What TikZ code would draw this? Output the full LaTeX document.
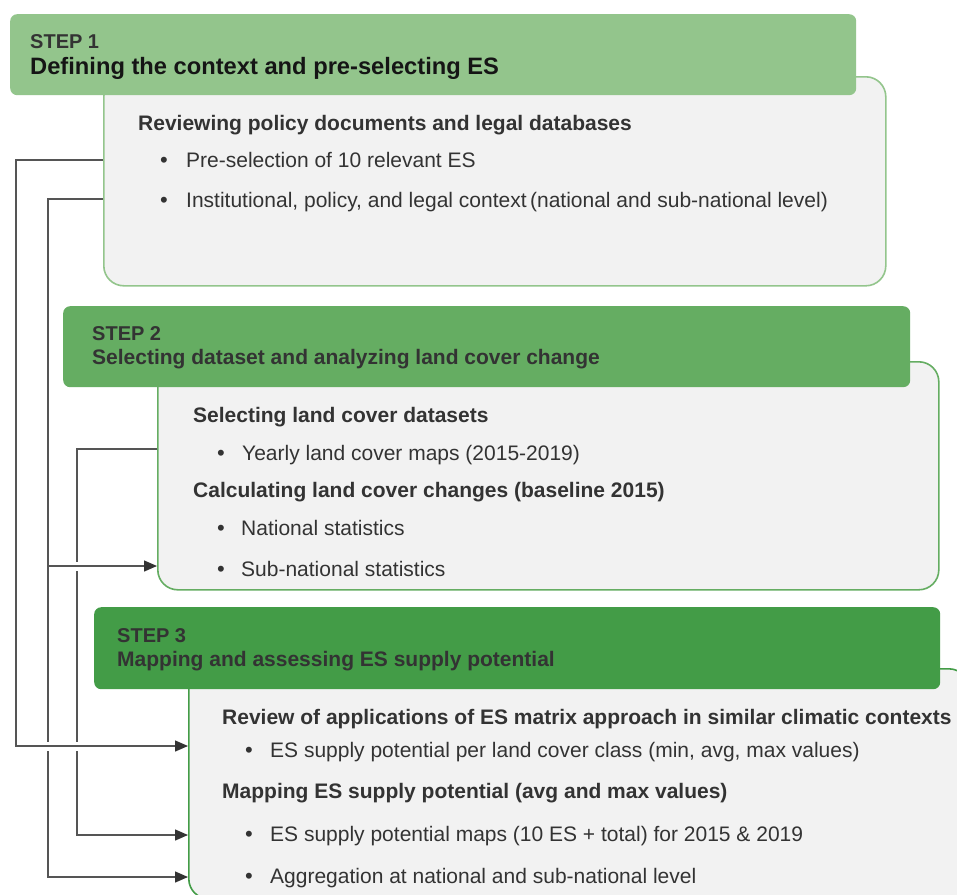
\documentclass[tikz,border=0pt]{standalone}
\usepackage{fontspec}
\setmainfont{Liberation Sans}
\usetikzlibrary{arrows.meta}
\definecolor{hA}{HTML}{93C58C}
\definecolor{hB}{HTML}{65AD62}
\definecolor{hC}{HTML}{439C47}
\definecolor{bodyfill}{HTML}{F2F2F2}
\definecolor{tgray}{HTML}{333333}
\definecolor{tblack}{HTML}{151515}
\definecolor{lgray}{HTML}{555555}
\begin{document}
\begin{tikzpicture}[x=1pt,y=-1pt,
  bodybox/.style={draw, line width=1.6pt, fill=bodyfill, rounded corners=20pt, anchor=north west, inner sep=0pt},
  headbox/.style={rounded corners=7pt, anchor=north west, inner sep=0pt},
  txt/.style={anchor=base west, inner sep=0pt, text=tgray, font=\fontsize{21}{25}\selectfont},
  hd/.style={anchor=base west, inner sep=0pt, text=tgray, font=\fontsize{21}{25}\selectfont\bfseries},
  steplbl/.style={anchor=base west, inner sep=0pt, text=tgray, font=\fontsize{20}{24}\selectfont\bfseries},
  bul/.style={anchor=base west, inner sep=0pt, text=tgray, font=\fontsize{22}{25}\selectfont},
  conn/.style={draw=lgray, line width=1.3pt},
  arr/.style={conn, -{Triangle[length=13pt,width=11pt,color=tgray]}},
  halo/.style={draw=white, line width=9pt}]
\useasboundingbox (0,0) rectangle (957,894);
\fill[white] (0,0) rectangle (957,894);

% ---------- bodies ----------
\node[bodybox, draw=hA, minimum width=782pt, minimum height=209pt] (b1) at (103,76) {};
\node[bodybox, draw=hB, minimum width=781pt, minimum height=228pt] (b2) at (157,361) {};
\node[bodybox, draw=hC, minimum width=780pt, minimum height=230pt] (b3) at (188,668) {};

% ---------- headers ----------
\node[headbox, fill=hA, minimum width=846pt, minimum height=81pt] (h1) at (10,14) {};
\node[headbox, fill=hB, minimum width=847pt, minimum height=81pt] (h2) at (63,306) {};
\node[headbox, fill=hC, minimum width=846pt, minimum height=82pt] (h3) at (94,607) {};

% ---------- header texts ----------
\node[steplbl] (s1) at (30,48) {STEP 1};
\node[anchor=base west, inner sep=0pt, text=tblack, font=\fontsize{23.7}{28}\selectfont\bfseries] (t1) at (30,74) {Defining the context and pre-selecting ES};
\node[steplbl] (s2) at (92,340) {STEP 2};
\node[hd] (t2) at (92,364) {Selecting dataset and analyzing land cover change};
\node[steplbl] (s3) at (117,642) {STEP 3};
\node[hd] (t3) at (117,666) {Mapping and assessing ES supply potential};

% ---------- step 1 body ----------
\node[hd] (r1) at (138,130) {Reviewing policy documents and legal databases};
\node[bul] (p1) at (160,167) {\textbullet};
\node[txt] (q1) at (186,167) {Pre-selection of 10 relevant ES};
\node[bul] (p2) at (160,207) {\textbullet};
\node[txt] (q2) at (186,207) {Institutional, policy, and legal context\,(national and sub-national level)};

% ---------- step 2 body ----------
\node[hd] (r2) at (193,422) {Selecting land cover datasets};
\node[bul] (p3) at (217,460) {\textbullet};
\node[txt] (q3) at (242,460) {Yearly land cover maps (2015-2019)};
\node[hd] (r3) at (193,497) {Calculating land cover changes (baseline 2015)};
\node[bul] (p4) at (217,535) {\textbullet};
\node[txt] (q4) at (241,535) {National statistics};
\node[bul] (p5) at (217,576) {\textbullet};
\node[txt] (q5) at (241,576) {Sub-national statistics};

% ---------- step 3 body ----------
\node[hd] (r4) at (222,724) {Review of applications of ES matrix approach in similar climatic contexts};
\node[bul] (p6) at (245,757) {\textbullet};
\node[txt] (q6) at (270,757) {ES supply potential per land cover class (min, avg, max values)};
\node[hd] (r5) at (222,798) {Mapping ES supply potential (avg and max values)};
\node[bul] (p7) at (245,841) {\textbullet};
\node[txt] (q7) at (270,841) {ES supply potential maps (10 ES + total) for 2015 \& 2019};
\node[bul] (p8) at (245,883) {\textbullet};
\node[txt] (q8) at (270,883) {Aggregation at national and sub-national level};

% ---------- connectors ----------
\coordinate (ca) at (16,160);
\coordinate (cb) at (48,199);
\coordinate (cc) at (77,449);
\coordinate (cj) at (48,566);

\draw[arr] (b2.west |- cc) -- (cc) -- (cc |- 0,835) -- (b3.west |- 0,835);
\draw[halo] (70,566) -- (84,566);
\draw[arr] (cj) -- (b2.west |- cj);
\draw[arr] (b1.west |- cb) -- (cb) -- (cb |- 0,877) -- (b3.west |- 0,877);
\draw[halo] (40,746) -- (86,746);
\draw[arr] (b1.west |- ca) -- (ca) -- (ca |- 0,746) -- (b3.west |- 0,746);
\end{tikzpicture}
\end{document}
